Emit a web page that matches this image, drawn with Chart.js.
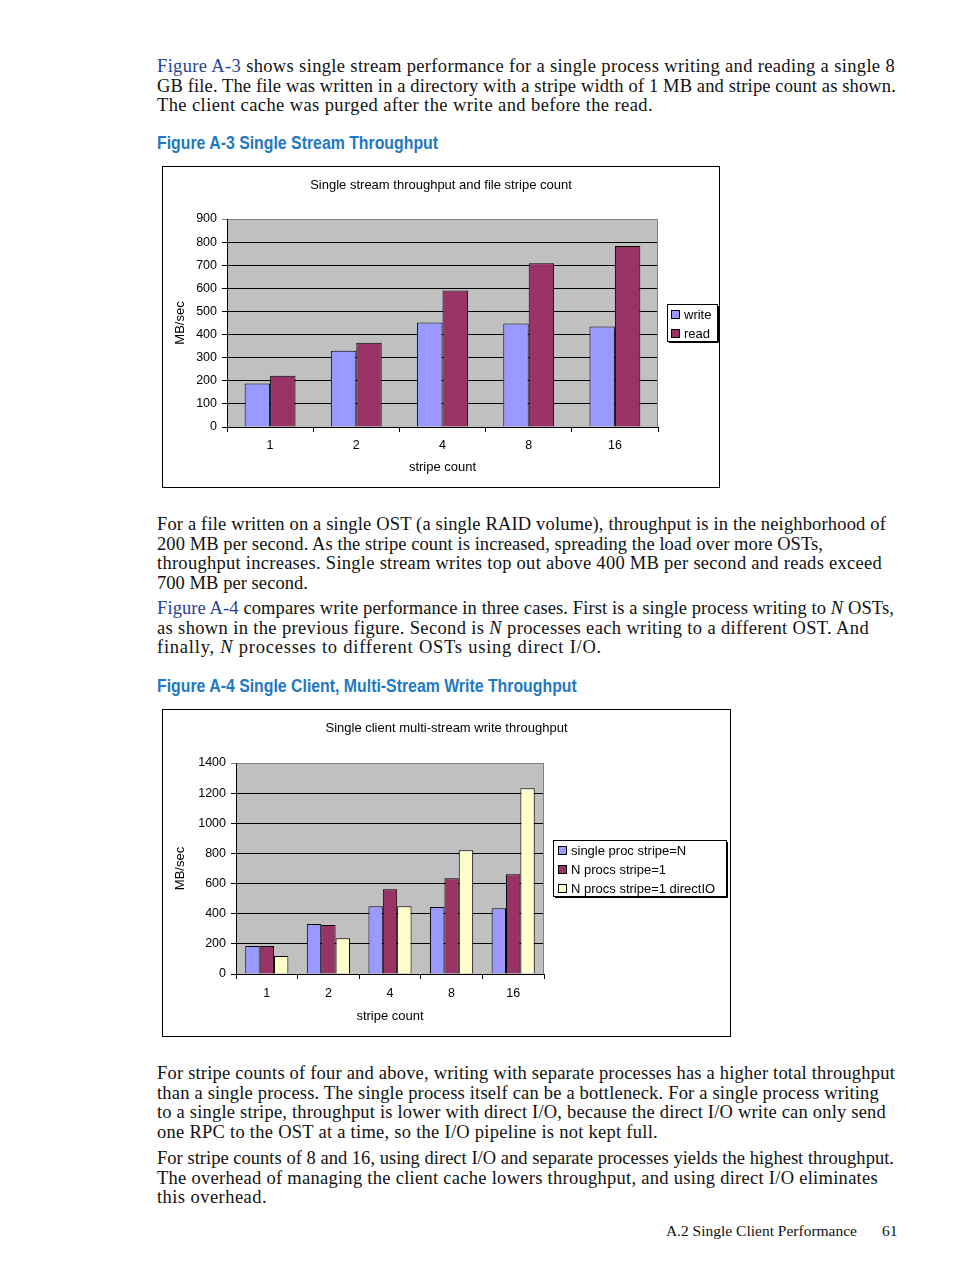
<!DOCTYPE html>
<html>
<head>
<meta charset="utf-8">
<script src="https://cdn.jsdelivr.net/npm/chart.js@4.4.1/dist/chart.umd.min.js"></script>
<style>
  body { margin: 0; background: #fff; width: 954px; height: 1271px; position: relative; overflow: hidden; font-family: "Liberation Serif", "DejaVu Serif", serif; color: #111; }
  .p { position: absolute; left: 157px; font-size: 18.5px; line-height: 19.5px; white-space: nowrap; }
  .ln { display: inline-block; }
  .lk { color: #27408f; }
  .h { position: absolute; left: 157px; font-family: "Liberation Sans", sans-serif; font-weight: bold; font-size: 18px; color: #1f78c2; line-height: 20px; white-space: nowrap; transform: scaleX(0.88); transform-origin: left center; }
  .box { position: absolute; border: 1px solid #000; background: #fff; }
  .box canvas { display: block; }
  .foot { position: absolute; top: 1222px; font-size: 15.5px; line-height: 18px; white-space: nowrap; }
</style>
</head>
<body>

<div class="p" style="top:57px">
  <span class="ln" data-r="895"><span class="lk">Figure A-3</span> shows single stream performance for a single process writing and reading a single 8</span><br>
  <span class="ln" data-r="896">GB file. The file was written in a directory with a stripe width of 1 MB and stripe count as shown.</span><br>
  <span class="ln" data-r="653">The client cache was purged after the write and before the read.</span>
</div>

<div class="h" style="top:133px">Figure A-3 Single Stream Throughput</div>

<div class="box" style="left:162px;top:166px;width:556px;height:320px">
  <canvas id="chart1" width="556" height="320"></canvas>
</div>

<div class="p" style="top:515px">
  <span class="ln" data-r="886">For a file written on a single OST (a single RAID volume), throughput is in the neighborhood of</span><br>
  <span class="ln" data-r="823">200 MB per second. As the stripe count is increased, spreading the load over more OSTs,</span><br>
  <span class="ln" data-r="882">throughput increases. Single stream writes top out above 400 MB per second and reads exceed</span><br>
  <span class="ln" data-r="308">700 MB per second.</span>
</div>

<div class="p" style="top:599px">
  <span class="ln" data-r="894"><span class="lk">Figure A-4</span> compares write performance in three cases. First is a single process writing to <i>N</i> OSTs,</span><br>
  <span class="ln" data-r="869">as shown in the previous figure. Second is <i>N</i> processes each writing to a different OST. And</span><br>
  <span class="ln" data-r="602">finally, <i>N</i> processes to different OSTs using direct I/O.</span>
</div>

<div class="h" style="top:676px">Figure A-4 Single Client, Multi-Stream Write Throughput</div>

<div class="box" style="left:162px;top:709px;width:567px;height:326px">
  <canvas id="chart2" width="567" height="326"></canvas>
</div>

<div class="p" style="top:1064px">
  <span class="ln" data-r="895">For stripe counts of four and above, writing with separate processes has a higher total throughput</span><br>
  <span class="ln" data-r="879">than a single process. The single process itself can be a bottleneck. For a single process writing</span><br>
  <span class="ln" data-r="886">to a single stripe, throughput is lower with direct I/O, because the direct I/O write can only send</span><br>
  <span class="ln" data-r="658">one RPC to the OST at a time, so the I/O pipeline is not kept full.</span>
</div>

<div class="p" style="top:1149px">
  <span class="ln" data-r="894">For stripe counts of 8 and 16, using direct I/O and separate processes yields the highest throughput.</span><br>
  <span class="ln" data-r="878">The overhead of managing the client cache lowers throughput, and using direct I/O eliminates</span><br>
  <span class="ln" data-r="267">this overhead.</span>
</div>

<div class="foot" style="right:97px">A.2 Single Client Performance</div>
<div class="foot" style="left:882px">61</div>

<script>
// stripe counts on the x axis (shared by both figures)
const stripeCounts = ['1', '2', '4', '8', '16'];

// Figure A-3: single stream throughput, MB/sec
const writeMBs = [188, 330, 452, 448, 435];
const readMBs = [222, 365, 591, 709, 783];

// Figure A-4: single client multi-stream write throughput, MB/sec
const singleProcMBs = [185, 331, 450, 444, 437];
const nProcsMBs = [185, 325, 563, 636, 662];
const nProcsDirectMBs = [119, 238, 450, 821, 1232];

// stretch each body line so it ends where the printed line ends
function fitLines() {
  document.querySelectorAll('.ln').forEach(el => {
    el.style.letterSpacing = '0px';
    const target = +el.dataset.r - 157;
    const w = el.getBoundingClientRect().width;
    const n = el.textContent.length;
    el.style.letterSpacing = ((target - w) / n) + 'px';
  });
}
fitLines();
if (document.fonts) document.fonts.ready.then(fitLines);

Chart.defaults.font.family = '"Liberation Sans", Arial, sans-serif';
Chart.defaults.font.size = 12;
Chart.defaults.color = '#000';
Chart.defaults.animation = false;

// grey plot area, grey right frame, and an Excel-style boxed legend
const excelLook = {
  id: 'excelLook',
  beforeDraw(chart) {
    const { ctx, chartArea: a } = chart;
    ctx.save();
    ctx.fillStyle = '#c0c0c0';
    ctx.fillRect(a.left, a.top, a.right - a.left, a.bottom - a.top);
    ctx.restore();
  },
  beforeDatasetsDraw(chart) {
    const { ctx, chartArea: a } = chart;
    ctx.save();
    ctx.strokeStyle = '#808080';
    ctx.lineWidth = 1;
    ctx.beginPath();
    ctx.moveTo(Math.round(a.right) - 0.5, a.top);
    ctx.lineTo(Math.round(a.right) - 0.5, a.bottom);
    ctx.stroke();
    ctx.restore();
  },
  afterDraw(chart, args, opts) {
    const { ctx } = chart;
    ctx.save();
    ctx.strokeStyle = '#000';
    ctx.lineWidth = 1;
    ctx.strokeRect(opts.x + 0.5, opts.y + 0.5, opts.w, opts.h);
    ctx.beginPath();
    ctx.moveTo(opts.x + opts.w + 1.5, opts.y + 2);
    ctx.lineTo(opts.x + opts.w + 1.5, opts.y + opts.h + 1.5);
    ctx.lineTo(opts.x + 2, opts.y + opts.h + 1.5);
    ctx.stroke();
    ctx.font = '13px "Liberation Sans", Arial, sans-serif';
    ctx.textBaseline = 'middle';
    chart.data.datasets.forEach((ds, i) => {
      const cy = opts.y + 10 + i * 19;
      ctx.fillStyle = ds.backgroundColor;
      ctx.fillRect(opts.x + opts.sq, cy - 4, 8, 8);
      ctx.strokeRect(opts.x + opts.sq + 0.5, cy - 4 + 0.5, 8, 8);
      ctx.fillStyle = '#000';
      ctx.fillText(ds.label, opts.x + opts.tx, cy + 1);
    });
    ctx.restore();
  }
};

function barChart(id, title, datasets, cfg) {
  return new Chart(document.getElementById(id), {
    type: 'bar',
    data: { labels: stripeCounts, datasets },
    plugins: [excelLook],
    options: {
      responsive: false,
      layout: { padding: 0 },
      datasets: {
        bar: { categoryPercentage: cfg.cat, barPercentage: 1, borderColor: '#000', borderWidth: 1 }
      },
      plugins: {
        legend: { display: false },
        tooltip: { enabled: false },
        title: {
          display: true, text: title,
          font: { size: 13, weight: 'normal' },
          padding: { top: 11, bottom: cfg.titleGap }
        },
        excelLook: cfg.legend
      },
      scales: {
        x: {
          afterFit(s) { s.height = cfg.xh; },
          grid: { drawOnChartArea: false, tickLength: 5, color: '#000' },
          border: { color: '#000' },
          ticks: { padding: cfg.xpad, font: { size: 12.5 } },
          title: { display: true, text: 'stripe count', font: { size: 13 }, padding: { top: 0, bottom: 12 } }
        },
        y: {
          min: 0, max: cfg.max,
          afterFit(s) { s.width = cfg.yw; },
          grid: {
            tickLength: 5,
            color: c => (c.tick && c.tick.value === cfg.max ? '#808080' : '#000')
          },
          border: { color: '#000' },
          ticks: { stepSize: cfg.step, padding: 5, font: { size: 12.5 }, callback: v => String(v) },
          title: { display: true, text: 'MB/sec', font: { size: 13 }, padding: { top: 10, bottom: 0 } }
        },
        // empty right-hand strip where the legend sits
        yPad: {
          type: 'linear', position: 'right',
          afterFit(s) { s.width = cfg.right; },
          grid: { display: false, drawTicks: false },
          border: { display: false },
          ticks: { display: false }
        }
      }
    }
  });
}

barChart('chart1', 'Single stream throughput and file stripe count', [
  { label: 'write', data: writeMBs, backgroundColor: '#9999ff' },
  { label: 'read', data: readMBs, backgroundColor: '#993366' }
], {
  right: 61, cat: 0.59, titleGap: 25.4, xh: 60, xpad: 6, yw: 64, max: 900, step: 100,
  legend: { x: 504, y: 137, w: 50, h: 37, sq: 4, tx: 17 }
});

barChart('chart2', 'Single client multi-stream write throughput', [
  { label: 'single proc stripe=N', data: singleProcMBs, backgroundColor: '#9999ff' },
  { label: 'N procs stripe=1', data: nProcsMBs, backgroundColor: '#993366' },
  { label: 'N procs stripe=1 directIO', data: nProcsDirectMBs, backgroundColor: '#ffffcc' }
], {
  right: 186, cat: 0.70, titleGap: 26.4, xh: 62, xpad: 7, yw: 73, max: 1400, step: 200,
  legend: { x: 390, y: 130, w: 173, h: 56, sq: 5, tx: 18 }
});
</script>
</body>
</html>
